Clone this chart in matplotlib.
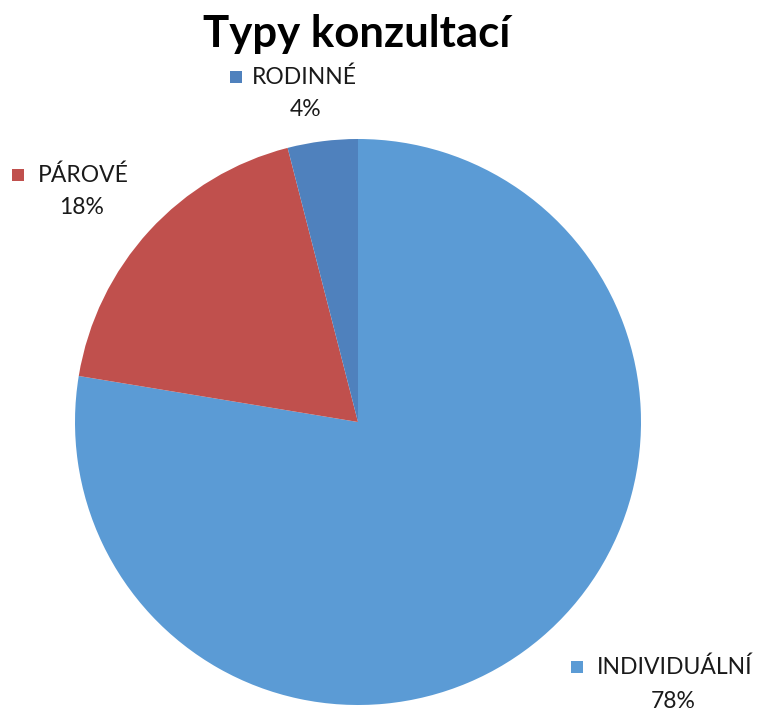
import matplotlib
matplotlib.use('Agg')
import matplotlib.pyplot as plt

# data
categories = ['INDIVIDUÁLNÍ', 'PÁROVÉ', 'RODINNÉ']
shares = [77.6, 18.4, 4.0]
colors = ['#5B9BD5', '#C0504D', '#4F81BD']

plt.rcParams['font.family'] = ['Lato', 'DejaVu Sans']

fig = plt.figure(figsize=(7.57, 7.13), dpi=100)
ax = fig.add_axes([0, 0, 1, 1])

H = 713
ax.pie(shares, colors=colors, startangle=90, counterclock=False,
       center=(358, H - 422), radius=283, wedgeprops={'linewidth': 0})
ax.set_xlim(0, 757)
ax.set_ylim(0, H)
ax.set_aspect('equal')
ax.axis('off')

ax.text(357, H - 34, 'Typy konzultací', ha='center', va='center',
        fontsize=31.5, fontweight='bold')

# label layout: (square x, square y, text x, pct x, pct y)
label_pos = [(577, 667, 597, 673, 701),
             (18, 175, 38, 82, 208),
             (236, 77, 252, 306, 109)]
for name, val, col, (sx, sy, tx, px, py) in zip(categories, shares, colors, label_pos):
    ax.scatter([sx], [H - sy], marker='s', s=85, color=col, linewidths=0)
    ax.text(tx, H - sy, name, ha='left', va='center', fontsize=16.5, color='#1a1a1a')
    ax.text(px, H - py, f'{round(val)}%', ha='center', va='center', fontsize=16.5, color='#1a1a1a')

fig.savefig('out.png', dpi=100)
